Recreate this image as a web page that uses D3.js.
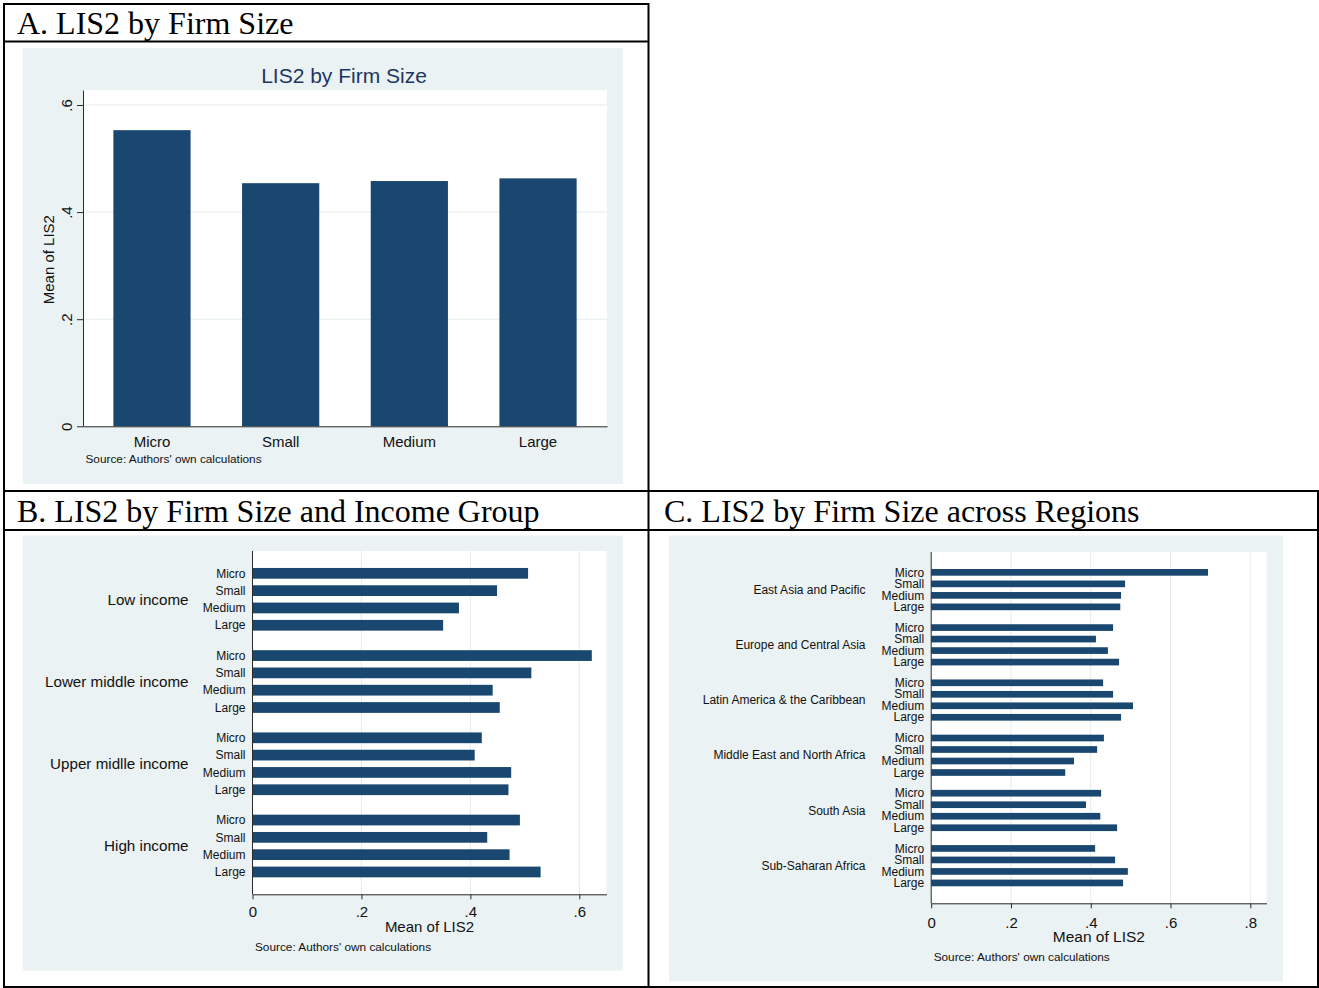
<!DOCTYPE html>
<html>
<head>
<meta charset="utf-8">
<script src="https://cdn.jsdelivr.net/npm/d3@7"></script>
<style>
  body { margin: 0; background: #fff; }
  svg { display: block; }
</style>
</head>
<body>
<svg id="fig" width="1319" height="988"></svg>
<script>
// ---- data -------------------------------------------------------------
const sizes = ["Micro", "Small", "Medium", "Large"];

// Panel A: mean LIS2 by firm size
const sizeMeans = [0.553, 0.454, 0.458, 0.463];

// Panel B: mean LIS2 by firm size within income groups
const incomeGroups = ["Low income", "Lower middle income", "Upper midlle income", "High income"];
const lowIncome         = [0.506, 0.449, 0.379, 0.350];
const lowerMiddleIncome = [0.623, 0.512, 0.441, 0.454];
const upperMiddleIncome = [0.421, 0.408, 0.475, 0.470];
const highIncome        = [0.491, 0.431, 0.472, 0.529];

// Panel C: mean LIS2 by firm size within regions
const regions = ["East Asia and Pacific", "Europe and Central Asia", "Latin America & the Caribbean",
                 "Middle East and North Africa", "South Asia", "Sub-Saharan Africa"];
const eastAsiaPacific    = [0.694, 0.486, 0.476, 0.474];
const europeCentralAsia  = [0.456, 0.413, 0.443, 0.471];
const latinAmerica       = [0.431, 0.456, 0.506, 0.476];
const middleEastNAfrica  = [0.433, 0.416, 0.358, 0.336];
const southAsia          = [0.426, 0.388, 0.424, 0.466];
const subSaharanAfrica   = [0.411, 0.461, 0.493, 0.481];

const ticksA = [0, 0.2, 0.4, 0.6];
const ticksB = [0, 0.2, 0.4, 0.6];
const ticksC = [0, 0.2, 0.4, 0.6, 0.8];

const panelTitles = ["A. LIS2 by Firm Size", "B. LIS2 by Firm Size and Income Group",
                     "C. LIS2 by Firm Size across Regions"];
const chartTitleA = "LIS2 by Firm Size";
const axisTitle = "Mean of LIS2";
const sourceNote = "Source: Authors' own calculations";

// ---- style ------------------------------------------------------------
const NAVY = "#1a476f";
const BG = "#eaf2f3";
const GRID = "#e3ebee";
const TITLE_COL = "#1f3561";
const AXIS_COL = "#2a2a2a";
const SANS = "'Liberation Sans', Arial, sans-serif";
const SERIF = "'Liberation Serif', 'Times New Roman', serif";

// Stata-style tick labels: 0, .2, .4 ...
const fmtTick = v => v === 0 ? "0" : d3.format(".1f")(v).replace(/^0/, "");

const svg = d3.select("#fig");

// ---- table frame ------------------------------------------------------
const frame = svg.append("g").attr("stroke", "#000").attr("stroke-width", 2);
const hLines = [[3, 649, 4], [3, 649, 41.5], [3, 1319, 491], [3, 1319, 530], [3, 1319, 987]];
const vLines = [[4, 3, 988], [648.5, 3, 988], [1318, 490, 988]];
hLines.forEach(([x1, x2, y]) => frame.append("line").attr("x1", x1).attr("x2", x2).attr("y1", y).attr("y2", y));
vLines.forEach(([x, y1, y2]) => frame.append("line").attr("x1", x).attr("x2", x).attr("y1", y1).attr("y2", y2));

const titlePos = [[17, 33.5], [17, 522], [664, 522]];
panelTitles.forEach((t, i) => {
  svg.append("text").attr("x", titlePos[i][0]).attr("y", titlePos[i][1])
    .attr("font-family", SERIF).attr("font-size", 32).attr("fill", "#000").text(t);
});

// ---- panel A: vertical bars -------------------------------------------
(function () {
  const g = svg.append("g");
  const plot = { x0: 83, x1: 607, y0: 90, y1: 426.3 };
  g.append("rect").attr("x", 23).attr("y", 48).attr("width", 600).attr("height", 436).attr("fill", BG);
  g.append("rect").attr("x", plot.x0).attr("y", plot.y0)
    .attr("width", plot.x1 - plot.x0).attr("height", plot.y1 - plot.y0).attr("fill", "#fff");

  const x = d3.scaleBand().domain(sizes).range([plot.x0, plot.x1]).paddingInner(0.4).paddingOuter(0.236);
  const y = d3.scaleLinear().domain([0, 0.628]).range([plot.y1, plot.y0]);

  g.append("g").selectAll("line").data(ticksA.filter(d => d > 0)).join("line")
    .attr("x1", plot.x0).attr("x2", plot.x1).attr("y1", d => y(d)).attr("y2", d => y(d))
    .attr("stroke", GRID).attr("stroke-width", 1);

  g.append("g").selectAll("rect").data(sizes).join("rect")
    .attr("x", d => x(d)).attr("width", x.bandwidth())
    .attr("y", (d, i) => y(sizeMeans[i])).attr("height", (d, i) => y(0) - y(sizeMeans[i]))
    .attr("fill", NAVY);

  // y axis with rotated labels
  const ya = g.append("g").attr("transform", `translate(${plot.x0},0)`)
    .call(d3.axisLeft(y).tickValues(ticksA).tickFormat(fmtTick).tickSize(6).tickSizeOuter(0));
  ya.select(".domain").attr("stroke", AXIS_COL);
  ya.selectAll(".tick line").attr("stroke", AXIS_COL);
  ya.selectAll(".tick text")
    .attr("font-family", SANS).attr("font-size", 15).attr("fill", "#111")
    .attr("x", 0).attr("y", -11.5).attr("dy", 0).attr("text-anchor", "middle")
    .attr("transform", "rotate(-90)");

  // category axis
  const xa = g.append("g").attr("transform", `translate(0,${plot.y1})`)
    .call(d3.axisBottom(x).tickSize(0).tickPadding(10).tickSizeOuter(0));
  xa.select(".domain").attr("stroke", AXIS_COL);
  xa.selectAll(".tick text").attr("font-family", SANS).attr("font-size", 15).attr("fill", "#111");

  g.append("text").attr("transform", `translate(53.7,${(plot.y0 + plot.y1) / 2 + 1.5}) rotate(-90)`)
    .attr("text-anchor", "middle").attr("font-family", SANS).attr("font-size", 15).attr("fill", "#111")
    .text(axisTitle);

  g.append("text").attr("x", 344).attr("y", 82.5).attr("text-anchor", "middle")
    .attr("font-family", SANS).attr("font-size", 21).attr("fill", TITLE_COL).text(chartTitleA);

  g.append("text").attr("x", plot.x0 + 2.5).attr("y", 459.3).attr("dy", "0.35em")
    .attr("font-family", SANS).attr("font-size", 11.8).attr("fill", "#111").text(sourceNote);
})();

// ---- grouped horizontal bar panels --------------------------------------
function hbarPanel(o) {
  const g = svg.append("g");
  const p = o.plot;
  g.append("rect").attr("x", o.bg[0]).attr("y", o.bg[1]).attr("width", o.bg[2]).attr("height", o.bg[3]).attr("fill", BG);
  g.append("rect").attr("x", p.x0).attr("y", p.y0).attr("width", p.x1 - p.x0).attr("height", p.y1 - p.y0).attr("fill", "#fff");

  const x = d3.scaleLinear().domain([0, o.xMax]).range([p.x0, p.x1]);
  const nG = o.groupNames.length;
  // slot positions: groups separated by an extra gap
  const y = d3.scaleLinear()
    .domain([-o.pad, (nG - 1) * o.period + (sizes.length - 1) + o.pad])
    .range([p.y0, p.y1]);
  const step = y(1) - y(0);
  const barH = step * o.barFrac;

  g.append("g").selectAll("line").data(o.ticks.filter(d => d > 0)).join("line")
    .attr("x1", d => x(d)).attr("x2", d => x(d)).attr("y1", p.y0).attr("y2", p.y1)
    .attr("stroke", GRID).attr("stroke-width", 1);

  const rows = [];
  o.groupNames.forEach((name, gi) => {
    o.values[gi].forEach((v, si) => rows.push({ group: name, size: sizes[si], v, pos: gi * o.period + si }));
  });

  g.append("g").selectAll("rect").data(rows).join("rect")
    .attr("x", x(0)).attr("width", d => x(d.v) - x(0))
    .attr("y", d => y(d.pos) - barH / 2).attr("height", barH)
    .attr("fill", NAVY);

  // firm-size labels
  g.append("g").selectAll("text").data(rows).join("text")
    .attr("x", p.x0 - 7).attr("y", d => y(d.pos)).attr("dy", "0.35em")
    .attr("text-anchor", "end").attr("font-family", SANS).attr("font-size", o.sizeFont).attr("fill", "#111")
    .text(d => d.size);

  // group labels
  g.append("g").selectAll("text").data(o.groupNames).join("text")
    .attr("x", o.groupRight).attr("y", (d, gi) => y(gi * o.period + (sizes.length - 1) / 2)).attr("dy", "0.35em")
    .attr("text-anchor", "end").attr("font-family", SANS).attr("font-size", o.groupFont).attr("fill", "#111")
    .text(d => d);

  // left axis line
  g.append("line").attr("x1", p.x0).attr("x2", p.x0).attr("y1", p.y0).attr("y2", p.y1)
    .attr("stroke", AXIS_COL).attr("stroke-width", 1);

  const xa = g.append("g").attr("transform", `translate(0,${p.y1})`)
    .call(d3.axisBottom(x).tickValues(o.ticks).tickFormat(fmtTick).tickSize(5).tickPadding(o.tickPad).tickSizeOuter(0));
  xa.select(".domain").attr("stroke", AXIS_COL);
  xa.selectAll(".tick line").attr("stroke", AXIS_COL);
  xa.selectAll(".tick text").attr("font-family", SANS).attr("font-size", 15).attr("fill", "#111");

  g.append("text").attr("x", (p.x0 + p.x1) / 2).attr("y", o.titleY).attr("dy", "0.35em")
    .attr("text-anchor", "middle").attr("font-family", SANS).attr("font-size", o.titleFont).attr("fill", "#111")
    .text(axisTitle);

  g.append("text").attr("x", p.x0 + 2.5).attr("y", o.noteY).attr("dy", "0.35em")
    .attr("font-family", SANS).attr("font-size", 11.8).attr("fill", "#111").text(sourceNote);
}

hbarPanel({
  bg: [23, 535.5, 600, 435],
  plot: { x0: 252.5, x1: 606.5, y0: 551, y1: 894.3 },
  xMax: 0.650,
  ticks: ticksB,
  groupNames: incomeGroups,
  values: [lowIncome, lowerMiddleIncome, upperMiddleIncome, highIncome],
  period: 4.75, pad: 1.29, barFrac: 0.62,
  sizeFont: 12, groupFont: 15.2, groupRight: 188.5,
  tickPad: 7, titleFont: 15, titleY: 926.7, noteY: 946.7
});

hbarPanel({
  bg: [669, 535.5, 614, 446],
  plot: { x0: 931.2, x1: 1266.5, y0: 552, y1: 903.3 },
  xMax: 0.8406,
  ticks: ticksC,
  groupNames: regions,
  values: [eastAsiaPacific, europeCentralAsia, latinAmerica, middleEastNAfrica, southAsia, subSaharanAfrica],
  period: 4.8, pad: 1.77, barFrac: 0.58,
  sizeFont: 12, groupFont: 12, groupRight: 865.5,
  tickPad: 8.7, titleFont: 15.5, titleY: 936.7, noteY: 956.7
});
</script>
</body>
</html>
